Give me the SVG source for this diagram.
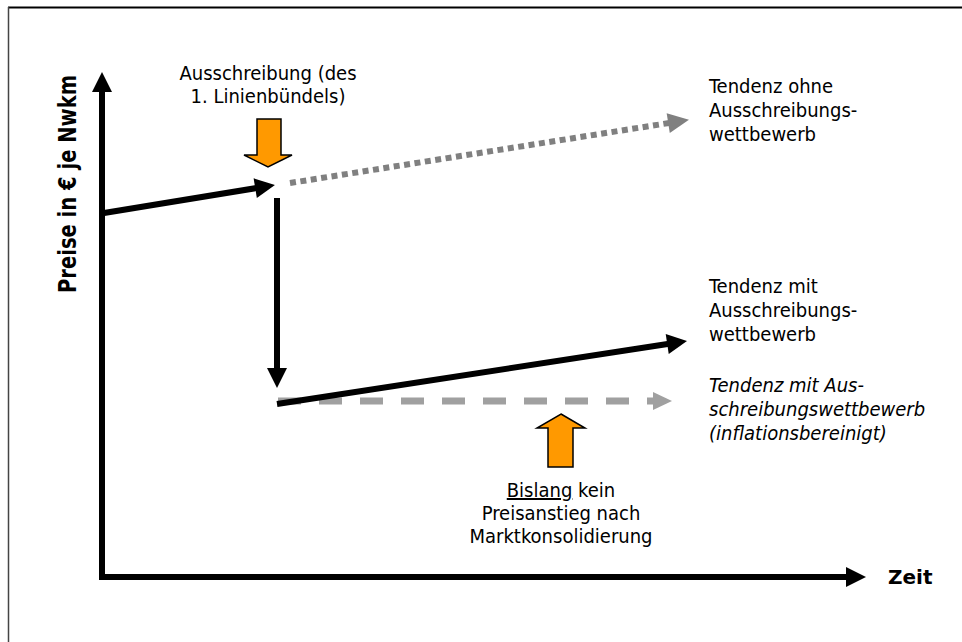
<svg xmlns="http://www.w3.org/2000/svg" width="962" height="642" viewBox="0 0 962 642">
<style>
.t{font-family:"DejaVu Sans Condensed","DejaVu Sans",sans-serif;font-size:20px;fill:#000}
.c{text-anchor:middle}
.it{font-style:italic}
.b{font-family:"DejaVu Sans","DejaVu Sans Condensed",sans-serif;font-weight:bold}
.blk{fill:none;stroke:#000;stroke-width:6}
.org{fill:#FF9900;stroke:#000;stroke-width:1.5;stroke-linejoin:miter}
</style>
<defs>
<marker id="hb" markerUnits="userSpaceOnUse" markerWidth="20" markerHeight="20" refX="2" refY="10" orient="auto-start-reverse" overflow="visible"><path d="M0,0 L20,10 L0,20 z" fill="#000"/></marker>
<marker id="hg" markerUnits="userSpaceOnUse" markerWidth="22" markerHeight="20" refX="2" refY="10" orient="auto" overflow="visible"><path d="M0,0 L21,10 L0,20 z" fill="#808080"/></marker>
<marker id="hl" markerUnits="userSpaceOnUse" markerWidth="20" markerHeight="20" refX="2" refY="10" orient="auto" overflow="visible"><path d="M0,1 L19,10 L0,19 z" fill="#a0a0a0"/></marker>
</defs>
<rect width="962" height="642" fill="#fff"/>
<g id="frame">
<line x1="8" y1="7.5" x2="962" y2="7.5" stroke="#000" stroke-width="2"/>
<line x1="8.5" y1="7" x2="8.5" y2="642" stroke="#444" stroke-width="1.5"/>
</g>
<g id="connectors">
<path id="axes" class="blk" d="M102,90 L102,577 L848,577" marker-start="url(#hb)" marker-end="url(#hb)" stroke-linejoin="miter"/>
<line id="trend-before" class="blk" x1="104" y1="213" x2="257.2" y2="187.9" marker-end="url(#hb)"/>
<line id="trend-without" x1="290" y1="183" x2="670.2" y2="122.8" stroke="#808080" stroke-width="6" stroke-dasharray="6 4.5" marker-end="url(#hg)"/>
<line id="drop" class="blk" x1="277" y1="198" x2="277" y2="370" marker-end="url(#hb)"/>
<line id="trend-infl" x1="278" y1="401" x2="655" y2="401" stroke="#a0a0a0" stroke-width="7" stroke-dasharray="23 18" marker-end="url(#hl)"/>
<line id="trend-with" class="blk" x1="277" y1="404" x2="669.2" y2="343.7" marker-end="url(#hb)"/>
</g>
<g id="y-label">
<text class="b" font-size="24" x="76" y="184" text-anchor="middle" transform="rotate(-90 76 184)" textLength="218" lengthAdjust="spacingAndGlyphs">Preise in € je Nwkm</text>
</g>
<g id="x-label">
<text class="b" font-size="20" x="888" y="584">Zeit</text>
</g>
<g id="ausschreibung">
<text class="t c" x="268" y="80">Ausschreibung (des</text>
<text class="t c" x="268" y="103">1. Linienbündels)</text>
<polygon class="org" points="257,119 281,119 281,155 292,155 268,167 244,155 257,155"/>
</g>
<g id="tendenz-ohne">
<text class="t" x="709" y="93">Tendenz ohne</text>
<text class="t" x="709" y="117">Ausschreibungs-</text>
<text class="t" x="709" y="141">wettbewerb</text>
</g>
<g id="tendenz-mit">
<text class="t" x="709" y="293">Tendenz mit</text>
<text class="t" x="709" y="317">Ausschreibungs-</text>
<text class="t" x="709" y="341">wettbewerb</text>
</g>
<g id="tendenz-infl">
<text class="t it" x="709" y="392">Tendenz mit Aus-</text>
<text class="t it" x="709" y="416">schreibungswettbewerb</text>
<text class="t it" x="709" y="440">(inflationsbereinigt)</text>
</g>
<g id="bislang">
<polygon class="org" points="561,414 585,428 573,428 573,467 548,467 548,428 537,428"/>
<text class="t c" x="561" y="497"><tspan text-decoration="underline">Bislang</tspan> kein</text>
<text class="t c" x="561" y="520">Preisanstieg nach</text>
<text class="t c" x="561" y="543">Marktkonsolidierung</text>
</g>
</svg>
